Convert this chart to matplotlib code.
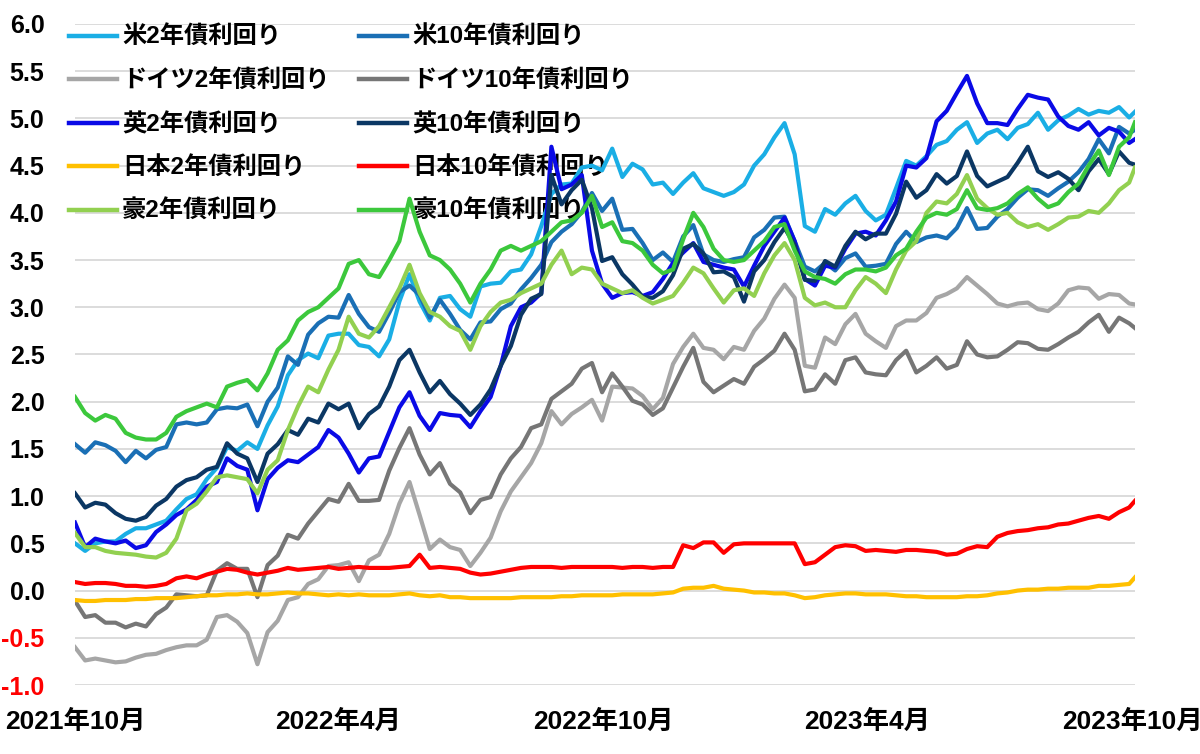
import matplotlib
matplotlib.use("Agg")
import matplotlib.pyplot as plt
import pandas as pd
import numpy as np

plt.rcParams['font.family'] = ['Liberation Sans', 'Noto Sans CJK JP']
plt.rcParams['font.weight'] = 'bold'

# weekly readings (Fridays) from 2021-10-29, last point 2023-10-31
dates = list(pd.date_range("2021-10-29", periods=105, freq="7D")) + [pd.Timestamp("2023-10-31")]

us2 = [0.50, 0.42, 0.50, 0.52, 0.52, 0.60, 0.66, 0.66, 0.70, 0.74,
       0.86, 0.97, 1.02, 1.18, 1.30, 1.52, 1.48, 1.57, 1.50, 1.75,
       1.95, 2.28, 2.44, 2.51, 2.46, 2.70, 2.72, 2.72, 2.60, 2.58,
       2.48, 2.66, 3.06, 3.35, 3.06, 2.86, 3.10, 3.12, 2.98, 2.90,
       3.22, 3.25, 3.26, 3.38, 3.40, 3.56, 3.86, 4.20, 4.30, 4.31,
       4.48, 4.50, 4.45, 4.68, 4.38, 4.52, 4.46, 4.30, 4.32, 4.20,
       4.32, 4.42, 4.26, 4.22, 4.18, 4.22, 4.30, 4.50, 4.62, 4.80,
       4.95, 4.62, 3.86, 3.80, 4.04, 3.98, 4.10, 4.18, 4.02, 3.92,
       3.98, 4.26, 4.55, 4.50, 4.60, 4.72, 4.76, 4.88, 4.96, 4.74,
       4.84, 4.88, 4.78, 4.90, 4.94, 5.06, 4.88, 4.98, 5.03, 5.10,
       5.04, 5.08, 5.06, 5.12, 5.01, 5.07]
us10 = [1.55, 1.46, 1.57, 1.54, 1.48, 1.36, 1.48, 1.40, 1.49, 1.52,
        1.76, 1.78, 1.76, 1.78, 1.92, 1.94, 1.93, 1.97, 1.74, 2.00,
        2.15, 2.48, 2.39, 2.71, 2.83, 2.90, 2.89, 3.13, 2.93, 2.79,
        2.74, 2.94, 3.16, 3.23, 3.13, 2.89, 3.08, 2.93, 2.76, 2.66,
        2.84, 2.85, 2.98, 3.04, 3.19, 3.31, 3.45, 3.69, 3.80, 3.88,
        4.01, 4.21, 4.02, 4.15, 3.82, 3.83, 3.68, 3.50, 3.58, 3.48,
        3.75, 3.87, 3.56, 3.50, 3.48, 3.51, 3.53, 3.74, 3.82, 3.95,
        3.96, 3.70, 3.43, 3.38, 3.47, 3.39, 3.52, 3.57, 3.43, 3.44,
        3.46, 3.67, 3.80, 3.69, 3.74, 3.76, 3.73, 3.84, 4.05, 3.83,
        3.84, 3.96, 4.04, 4.16, 4.25, 4.24, 4.18, 4.26, 4.33, 4.43,
        4.57, 4.78, 4.63, 4.91, 4.84, 4.88]
de2 = [-0.60, -0.74, -0.72, -0.74, -0.76, -0.75, -0.71, -0.68, -0.67, -0.63,
       -0.60, -0.58, -0.58, -0.52, -0.28, -0.26, -0.33, -0.45, -0.78, -0.44,
       -0.32, -0.10, -0.07, 0.07, 0.12, 0.26, 0.27, 0.30, 0.10, 0.32,
       0.38, 0.60, 0.92, 1.15, 0.80, 0.44, 0.54, 0.46, 0.43, 0.26,
       0.40, 0.56, 0.84, 1.05, 1.20, 1.35, 1.56, 1.90, 1.76, 1.87,
       1.94, 2.02, 1.80, 2.16, 2.15, 2.14, 2.06, 1.92, 2.04, 2.40,
       2.58, 2.72, 2.57, 2.55, 2.45, 2.58, 2.55, 2.75, 2.88, 3.09,
       3.24, 3.10, 2.38, 2.36, 2.68, 2.61, 2.82, 2.93, 2.72, 2.64,
       2.57, 2.80, 2.86, 2.86, 2.94, 3.10, 3.14, 3.20, 3.32, 3.23,
       3.14, 3.04, 3.01, 3.04, 3.05, 2.98, 2.96, 3.04, 3.18, 3.21,
       3.20, 3.09, 3.14, 3.13, 3.04, 3.03]
de10 = [-0.11, -0.28, -0.26, -0.34, -0.34, -0.39, -0.35, -0.38, -0.25, -0.18,
        -0.04, -0.05, -0.06, -0.05, 0.21, 0.29, 0.23, 0.23, -0.07, 0.27,
        0.37, 0.59, 0.55, 0.71, 0.84, 0.97, 0.94, 1.13, 0.95, 0.95,
        0.96, 1.27, 1.51, 1.72, 1.44, 1.23, 1.35, 1.13, 1.04, 0.82,
        0.96, 0.99, 1.23, 1.40, 1.52, 1.72, 1.76, 2.03, 2.11, 2.19,
        2.35, 2.41, 2.10, 2.30, 2.16, 2.01, 1.97, 1.86, 1.93, 2.15,
        2.37, 2.57, 2.21, 2.10, 2.17, 2.24, 2.19, 2.37, 2.45, 2.54,
        2.72, 2.55, 2.11, 2.13, 2.29, 2.19, 2.44, 2.47, 2.31, 2.29,
        2.28, 2.44, 2.54, 2.31, 2.38, 2.47, 2.35, 2.39, 2.64, 2.50,
        2.47, 2.48, 2.55, 2.63, 2.62, 2.56, 2.55, 2.61, 2.68, 2.74,
        2.84, 2.92, 2.74, 2.89, 2.83, 2.78]
uk2 = [0.72, 0.46, 0.55, 0.52, 0.50, 0.53, 0.45, 0.48, 0.62, 0.70,
       0.80, 0.86, 0.96, 1.10, 1.15, 1.40, 1.32, 1.28, 0.85, 1.18,
       1.30, 1.38, 1.36, 1.44, 1.52, 1.70, 1.62, 1.45, 1.25, 1.40,
       1.42, 1.68, 1.94, 2.10, 1.85, 1.70, 1.88, 1.86, 1.85, 1.73,
       1.90, 2.05, 2.38, 2.80, 3.00, 3.05, 3.15, 4.70, 4.25, 4.30,
       4.40, 3.60, 3.25, 3.10, 3.15, 3.16, 3.12, 3.16, 3.30, 3.47,
       3.58, 3.68, 3.48, 3.45, 3.42, 3.40, 3.22, 3.44, 3.65, 3.80,
       3.95, 3.70, 3.30, 3.23, 3.44, 3.42, 3.62, 3.78, 3.80, 3.76,
       3.92, 4.12, 4.50, 4.48, 4.58, 4.97, 5.08, 5.27, 5.45, 5.16,
       4.95, 4.95, 4.93, 5.10, 5.25, 5.22, 5.20, 5.02, 4.92, 4.88,
       4.96, 4.82, 4.90, 4.86, 4.74, 4.78]
uk10 = [1.03, 0.88, 0.93, 0.91, 0.82, 0.76, 0.74, 0.78, 0.90, 0.97,
        1.10, 1.17, 1.20, 1.28, 1.31, 1.56, 1.45, 1.40, 1.15, 1.45,
        1.55, 1.70, 1.65, 1.82, 1.78, 1.98, 1.92, 1.98, 1.72, 1.87,
        1.95, 2.16, 2.44, 2.55, 2.31, 2.10, 2.22, 2.08, 1.98, 1.86,
        1.97, 2.13, 2.38, 2.59, 2.92, 3.09, 3.14, 4.40, 4.09, 4.24,
        4.35, 4.05, 3.49, 3.53, 3.35, 3.24, 3.11, 3.10, 3.17, 3.34,
        3.62, 3.67, 3.57, 3.37, 3.38, 3.32, 3.06, 3.38, 3.50, 3.69,
        3.84, 3.66, 3.29, 3.28, 3.49, 3.43, 3.65, 3.80, 3.72, 3.78,
        3.78, 3.99, 4.33, 4.16, 4.24, 4.41, 4.31, 4.39, 4.65, 4.39,
        4.28, 4.33, 4.38, 4.53, 4.70, 4.44, 4.38, 4.43, 4.36, 4.24,
        4.44, 4.57, 4.41, 4.65, 4.53, 4.51]
jp2 = [-0.10, -0.11, -0.11, -0.10, -0.10, -0.10, -0.09, -0.09, -0.08, -0.08,
       -0.08, -0.07, -0.06, -0.05, -0.05, -0.04, -0.04, -0.03, -0.04, -0.04,
       -0.03, -0.02, -0.03, -0.03, -0.04, -0.05, -0.04, -0.05, -0.04, -0.05,
       -0.05, -0.05, -0.04, -0.03, -0.05, -0.06, -0.05, -0.07, -0.07, -0.08,
       -0.08, -0.08, -0.08, -0.08, -0.07, -0.07, -0.07, -0.07, -0.06, -0.06,
       -0.05, -0.05, -0.05, -0.05, -0.04, -0.04, -0.04, -0.04, -0.03, -0.02,
       0.02, 0.03, 0.03, 0.05, 0.02, 0.01, 0.00, -0.02, -0.02, -0.03,
       -0.03, -0.05, -0.08, -0.07, -0.05, -0.04, -0.03, -0.03, -0.04, -0.04,
       -0.04, -0.05, -0.06, -0.06, -0.07, -0.07, -0.07, -0.07, -0.06, -0.06,
       -0.05, -0.03, -0.02, 0.00, 0.01, 0.01, 0.02, 0.02, 0.03, 0.03,
       0.03, 0.05, 0.05, 0.06, 0.07, 0.14]
jp10 = [0.09, 0.07, 0.08, 0.08, 0.07, 0.05, 0.05, 0.04, 0.05, 0.07,
        0.13, 0.15, 0.13, 0.17, 0.20, 0.23, 0.22, 0.19, 0.17, 0.19,
        0.21, 0.24, 0.22, 0.23, 0.24, 0.25, 0.23, 0.24, 0.25, 0.24,
        0.24, 0.24, 0.25, 0.26, 0.38, 0.24, 0.25, 0.24, 0.23, 0.19,
        0.17, 0.18, 0.20, 0.22, 0.24, 0.25, 0.25, 0.25, 0.24, 0.25,
        0.25, 0.25, 0.25, 0.25, 0.24, 0.25, 0.25, 0.24, 0.25, 0.25,
        0.48, 0.45, 0.51, 0.51, 0.40, 0.49, 0.50, 0.50, 0.50, 0.50,
        0.50, 0.50, 0.28, 0.30, 0.38, 0.46, 0.48, 0.47, 0.42, 0.43,
        0.42, 0.41, 0.43, 0.43, 0.42, 0.41, 0.38, 0.39, 0.44, 0.47,
        0.46, 0.57, 0.61, 0.63, 0.64, 0.66, 0.67, 0.70, 0.71, 0.74,
        0.77, 0.79, 0.76, 0.83, 0.88, 0.95]
au2 = [0.61, 0.46, 0.46, 0.42, 0.40, 0.39, 0.38, 0.36, 0.35, 0.40,
       0.55, 0.85, 0.92, 1.05, 1.20, 1.22, 1.20, 1.18, 1.03, 1.28,
       1.38, 1.70, 1.95, 2.16, 2.10, 2.34, 2.55, 2.90, 2.72, 2.68,
       2.80, 3.00, 3.20, 3.45, 3.15, 2.95, 2.90, 2.80, 2.75, 2.55,
       2.80, 2.95, 3.05, 3.08, 3.15, 3.20, 3.25, 3.45, 3.60, 3.35,
       3.42, 3.40, 3.25, 3.20, 3.15, 3.18, 3.10, 3.04, 3.08, 3.12,
       3.26, 3.42, 3.36, 3.20, 3.05, 3.18, 3.20, 3.12, 3.36, 3.55,
       3.68, 3.50, 3.10, 3.02, 3.05, 3.00, 3.00, 3.18, 3.32, 3.25,
       3.15, 3.40, 3.60, 3.70, 4.00, 4.12, 4.10, 4.20, 4.40, 4.15,
       4.05, 3.98, 4.00, 3.90, 3.85, 3.88, 3.82, 3.88, 3.95, 3.96,
       4.02, 4.00, 4.10, 4.24, 4.32, 4.48]
au10 = [2.05, 1.88, 1.80, 1.86, 1.82, 1.67, 1.62, 1.60, 1.60, 1.67,
        1.84, 1.90, 1.94, 1.98, 1.94, 2.16, 2.20, 2.23, 2.12, 2.30,
        2.55, 2.65, 2.86, 2.95, 3.00, 3.10, 3.20, 3.46, 3.50, 3.35,
        3.32, 3.50, 3.70, 4.15, 3.80, 3.55, 3.50, 3.40, 3.25, 3.05,
        3.25, 3.40, 3.60, 3.65, 3.60, 3.65, 3.70, 3.80, 3.90, 3.92,
        4.00, 4.18, 3.85, 3.90, 3.70, 3.68, 3.60, 3.45, 3.36, 3.40,
        3.72, 4.00, 3.85, 3.62, 3.50, 3.48, 3.50, 3.60, 3.70, 3.85,
        3.88, 3.60, 3.38, 3.32, 3.30, 3.25, 3.35, 3.40, 3.40, 3.38,
        3.42, 3.55, 3.62, 3.80, 3.95, 4.00, 3.98, 4.04, 4.24, 4.05,
        4.03, 4.05, 4.10, 4.20, 4.27, 4.15, 4.06, 4.10, 4.22, 4.31,
        4.50, 4.66, 4.40, 4.70, 4.80, 4.96]

labels = ["米2年債利回り", "米10年債利回り", "ドイツ2年債利回り", "ドイツ10年債利回り",
          "英2年債利回り", "英10年債利回り", "日本2年債利回り", "日本10年債利回り",
          "豪2年債利回り", "豪10年債利回り"]
series = [us2, us10, de2, de10, uk2, uk10, jp2, jp10, au2, au10]
colors = ["#1aaee5", "#1a6fb5", "#a6a6a6", "#767676", "#0a0ae6",
          "#0b3764", "#ffc000", "#ff0000", "#92d050", "#3cc83c"]

tick_dates = pd.to_datetime(["2021-10-29", "2022-04-29", "2022-10-29", "2023-04-29", "2023-10-29"])
tick_labels = ["2021年10月", "2022年4月", "2022年10月", "2023年4月", "2023年10月"]

fig = plt.figure(figsize=(12, 7.54), dpi=100)
ax = fig.add_axes([0.0625, 0.0915, 0.8833, 0.8767])

lines = []
for vals, lab, c in zip(series, labels, colors):
    ln, = ax.plot(dates, vals, color=c, lw=3.0, label=lab, solid_joinstyle="round")
    lines.append(ln)

ax.set_xlim(dates[0], dates[-1])
ax.set_ylim(-1, 6)
yt = np.arange(-1.0, 6.01, 0.5)
ax.set_yticks(yt)
ax.set_yticklabels([f"{v:.1f}" for v in yt], fontsize=18, fontweight="bold")
for t, v in zip(ax.get_yticklabels(), yt):
    if v < 0:
        t.set_color("#ff0000")
ax.set_xticks(tick_dates)
ax.set_xticklabels(tick_labels, fontsize=19, fontweight="bold")
ax.tick_params(axis="y", length=0, pad=22)
ax.tick_params(axis="x", length=0, pad=18)
ax.grid(axis="y", color="#d9d9d9", lw=1.3)
ax.set_axisbelow(True)
for s in ax.spines.values():
    s.set_visible(False)

# legend: 2-year column on the left, 10-year on the right
order = [0, 2, 4, 6, 8, 1, 3, 5, 7, 9]
leg = ax.legend([lines[i] for i in order], [labels[i] for i in order], ncol=2,
                loc="upper left", bbox_to_anchor=(-0.006, 0.997), frameon=False,
                prop={"size": 17.5, "weight": "bold"}, handlelength=2.0,
                handletextpad=0.2, columnspacing=1.2, labelspacing=0.84,
                borderaxespad=0, borderpad=0)
for h in leg.get_lines():
    h.set_linewidth(3.2)
leg.set_zorder(1)

plt.savefig("out.png")
plt.close()
